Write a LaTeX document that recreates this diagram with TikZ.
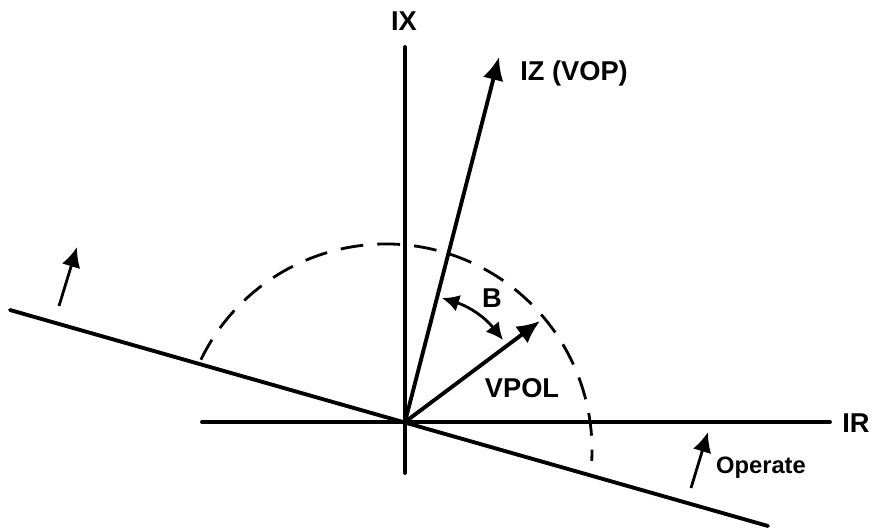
\documentclass[tikz,border=0pt]{standalone}
\usepackage{fontspec}
\setmainfont{Liberation Sans}
\usetikzlibrary{arrows.meta}

\begin{document}
\begin{tikzpicture}[
    x=0.02cm, y=-0.02cm,
    every node/.style={font=\fontsize{15.5}{17}\selectfont\bfseries, inner sep=0pt},
    axis/.style={line width=2.2pt, line cap=round},
    phasor/.style={line width=2.2pt, -{Latex[length=4.6mm,width=4.2mm]}},
    halfplane/.style={line width=1.6pt, dash pattern=on 13pt off 8pt},
    anglemark/.style={line width=1.6pt, {Latex[length=3.4mm,width=3.4mm]}-{Latex[length=3.4mm,width=3.4mm]}},
    side/.style={line width=1.6pt, -{Latex[length=4mm,width=3.8mm]}}
  ]
    \useasboundingbox (0,0) rectangle (875,531);

    \coordinate (O) at (405,422);
    \coordinate (irL) at (202,422);
    \coordinate (irR) at (830,422);
    \coordinate (ixT) at (405,47);
    \coordinate (ixB) at (405,473);
    \coordinate (chL) at (10,310);
    \coordinate (chR) at (768,526);
    \coordinate (iz) at (499,57);
    \coordinate (vpol) at (540,321);
    \coordinate (b1) at (442,298);
    \coordinate (b2) at (503,340);
    \coordinate (opLa) at (59,306);
    \coordinate (opLb) at (77,247);
    \coordinate (opRa) at (691,488);
    \coordinate (opRb) at (708,432);

    \node (lblIX) at (404,21) {IX};
    \node (lblIR) at (856,423) {IR};
    \node[anchor=west] (lblIZ) at (520,73) {IZ (VOP)};
    \node (lblVPOL) at (522,388) {VPOL};
    \node (lblB) at (492,298) {B};
    \node[font=\fontsize{13.5}{15}\selectfont\bfseries] (lblOp) at (761,468) {Operate};

    % axes and characteristic
    \draw[axis] (irL) -- (irR);
    \draw[axis] (ixT) -- (ixB);
    \draw[axis] (chL) -- (chR);
    \draw[halfplane] (386,450) ++(206:206) arc[start angle=206, end angle=363, radius=206];

    \draw[phasor] (O) -- (iz);
    \draw[phasor] (O) -- (vpol);
    \draw[anglemark] (b1) to[bend left=17] (b2);

    \draw[side] (opLa) -- (opLb);
    \draw[side] (opRa) -- (opRb);

  \end{tikzpicture}
\end{document}
